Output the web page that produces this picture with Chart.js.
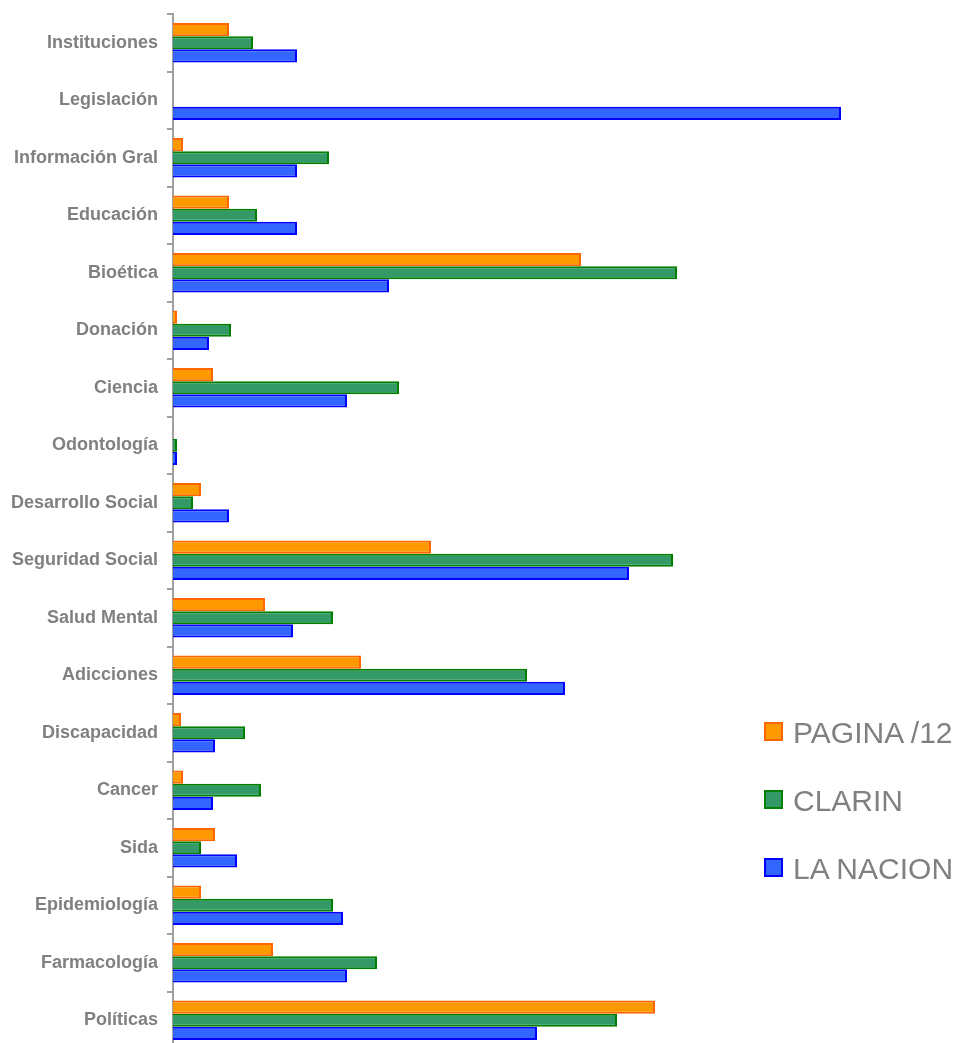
<!DOCTYPE html>
<html>
<head>
<meta charset="utf-8">
<script src="https://cdn.jsdelivr.net/npm/chart.js@4.4.1/dist/chart.umd.min.js"></script>
<style>
  html, body { margin: 0; padding: 0; background: #fff; overflow: hidden; }
  #wrap { position: relative; width: 965px; height: 1050px; }
  #grafico { display: block; }
  #leyenda { position: absolute; left: 764px; top: 718px; font-family: "Liberation Sans", Arial, sans-serif; }
  .item { display: flex; align-items: center; height: 30px; margin-bottom: 38px; }
  .caja { width: 15px; height: 15px; border: 2px solid; margin-right: 10px; margin-top: -3px; }
  .texto { font-size: 30px; color: #808080; line-height: 30px; }
</style>
</head>
<body>
<div id="wrap">
  <canvas id="grafico" width="965" height="1050"></canvas>
  <div id="leyenda"></div>
</div>
<script>
// temas, de arriba hacia abajo
const temas = [
  'Instituciones', 'Legislación', 'Información Gral', 'Educación', 'Bioética',
  'Donación', 'Ciencia', 'Odontología', 'Desarrollo Social', 'Seguridad Social',
  'Salud Mental', 'Adicciones', 'Discapacidad', 'Cancer', 'Sida',
  'Epidemiología', 'Farmacología', 'Políticas'
];

const pagina12 = [14, 0, 2.5, 14, 102, 1, 10, 0, 7, 64.5, 23, 47, 2, 2.5, 10.5, 7, 25, 120.5];
const clarin   = [20, 0, 39, 21, 126, 14.5, 56.5, 1, 5, 125, 40, 88.5, 18, 22, 7, 40, 51, 111];
const laNacion = [31, 167, 31, 31, 54, 9, 43.5, 1, 14, 114, 30, 98, 10.5, 10, 16, 42.5, 43.5, 91];

const nombres = ['PAGINA /12', 'CLARIN', 'LA NACION'];

const gris = '#a0a0a0';

const ctx = document.getElementById('grafico').getContext('2d');
const grafico = new Chart(ctx, {
  type: 'bar',
  data: {
    labels: temas,
    datasets: [
      { label: nombres[0], data: pagina12, backgroundColor: '#ff9900', borderColor: '#ff6600' },
      { label: nombres[1], data: clarin,   backgroundColor: '#339966', borderColor: '#008000' },
      { label: nombres[2], data: laNacion, backgroundColor: '#3366ff', borderColor: '#0000ff' }
    ]
  },
  options: {
    indexAxis: 'y',
    responsive: false,
    animation: false,
    datasets: {
      bar: { borderWidth: 2, categoryPercentage: 0.69, barPercentage: 1 }
    },
    layout: { padding: { top: 14, right: 32, bottom: 1, left: 0 } },
    scales: {
      x: { display: false, min: 0, max: 190 },
      y: {
        afterFit: (escala) => {
          escala.width = 173;
          escala.paddingTop = 0;
          escala.paddingBottom = 0;
        },
        border: { color: gris, width: 2 },
        grid: { drawOnChartArea: false, color: gris, lineWidth: 2, tickLength: 6 },
        ticks: {
          color: '#808080',
          padding: 9,
          font: { family: '"Liberation Sans", Arial, sans-serif', size: 18, weight: 'bold' }
        }
      }
    },
    plugins: {
      legend: { display: false },
      tooltip: { enabled: false }
    }
  }
});

// leyenda a la derecha, armada con los datasets
const leyenda = document.getElementById('leyenda');
grafico.data.datasets.forEach(ds => {
  const item = document.createElement('div');
  item.className = 'item';
  const caja = document.createElement('div');
  caja.className = 'caja';
  caja.style.background = ds.backgroundColor;
  caja.style.borderColor = ds.borderColor;
  const texto = document.createElement('span');
  texto.className = 'texto';
  texto.textContent = ds.label;
  item.appendChild(caja);
  item.appendChild(texto);
  leyenda.appendChild(item);
});
</script>
</body>
</html>
